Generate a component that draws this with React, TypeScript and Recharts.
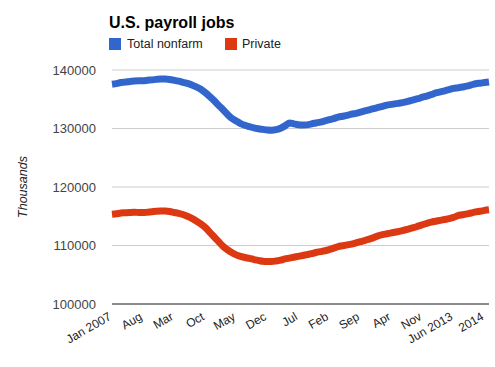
import { LineChart, Line, XAxis, YAxis, CartesianGrid } from 'recharts'

// Monthly, Jan 2007 - Feb 2014, thousands of jobs
const totalNonfarm = [
  137560, 137680, 137850, 137930, 138050, 138120, 138150, 138150, 138240, 138310, 138400, 138460,
  138450, 138380, 138250, 138100, 137900, 137700, 137440, 137100, 136700, 136150, 135500, 134800,
  134000, 133250, 132450, 131750, 131300, 130850, 130550, 130320, 130100, 129950, 129850, 129750,
  129720, 129800, 130050, 130450, 130950, 130800, 130650, 130600, 130620, 130800, 130950, 131100,
  131300, 131500, 131700, 131950, 132100, 132250, 132450, 132600, 132800, 133000, 133200, 133400,
  133600, 133800, 134000, 134120, 134250, 134350, 134500, 134700, 134900, 135100, 135350, 135550,
  135800, 136080, 136250, 136450, 136650, 136850, 136950, 137100, 137250, 137450, 137650, 137750,
  137850, 137950,
]

const privateJobs = [
  115330, 115420, 115550, 115600, 115650, 115680, 115650, 115620, 115700, 115780, 115860, 115900,
  115880, 115800, 115650, 115500, 115300, 115000, 114650, 114200, 113700, 113100, 112300, 111500,
  110700, 109900, 109300, 108800, 108400, 108150, 107950, 107800, 107600, 107450, 107300, 107250,
  107250, 107350, 107500, 107700, 107850, 108000, 108150, 108300, 108450, 108600, 108800, 108950,
  109100, 109300, 109550, 109800, 109950, 110100, 110250, 110450, 110650, 110850, 111100, 111350,
  111650, 111850, 112000, 112150, 112300, 112450, 112650, 112850, 113050, 113300, 113550, 113800,
  114000, 114150, 114300, 114450, 114600, 114800, 115100, 115250, 115400, 115550, 115750, 115850,
  116000, 116100,
]

const tickMonths = [
  '2007-01', '2007-08', '2008-03', '2008-10', '2009-05', '2009-12', '2010-07',
  '2011-02', '2011-09', '2012-04', '2012-11', '2013-06', '2014-01',
]
const tickLabels = ['Jan 2007', 'Aug', 'Mar', 'Oct', 'May', 'Dec', 'Jul', 'Feb', 'Sep', 'Apr', 'Nov', 'Jun 2013', '2014']
const yTicks = [100000, 110000, 120000, 130000, 140000]

const months: string[] = []
for (let i = 0; i < totalNonfarm.length; i++) {
  const y = 2007 + Math.floor(i / 12)
  const m = (i % 12) + 1
  months.push(`${y}-${m < 10 ? '0' + m : m}`)
}

const data = months.map((month, i) => ({
  month,
  total: totalNonfarm[i],
  private: privateJobs[i],
}))

const FONT = '"Liberation Sans", Arial, sans-serif'
const BLUE = '#3366cc'
const RED = '#dc3912'

const XTick = ({ x, y, payload }: any) => {
  const label = tickLabels[tickMonths.indexOf(payload.value)]
  const ty = y + 7
  return (
    <text
      x={x}
      y={ty}
      transform={`rotate(-30 ${x} ${ty})`}
      textAnchor="end"
      fontSize={12}
      fontFamily={FONT}
      fill="#222"
    >
      {label}
    </text>
  )
}

export default function App() {
  return (
    <div style={{ position: 'absolute', left: 0, top: 0, width: 495, height: 367, background: '#fff', fontFamily: FONT }}>
      <div style={{ position: 'absolute', left: 109, top: 13, fontSize: 16, fontWeight: 'bold', color: '#000', lineHeight: '20px' }}>
        U.S. payroll jobs
      </div>
      <div style={{ position: 'absolute', left: 109, top: 38, width: 12, height: 12, background: BLUE }} />
      <div style={{ position: 'absolute', left: 127, top: 36, fontSize: 12.5, color: '#222', lineHeight: '16px' }}>
        Total nonfarm
      </div>
      <div style={{ position: 'absolute', left: 225, top: 38, width: 12, height: 12, background: RED }} />
      <div style={{ position: 'absolute', left: 242, top: 36, fontSize: 12.5, color: '#222', lineHeight: '16px' }}>
        Private
      </div>
      <LineChart width={495} height={367} data={data} margin={{ top: 70, right: 6, bottom: 8, left: 0 }}>
        <CartesianGrid vertical={false} stroke="#cccccc" />
        <XAxis
          dataKey="month"
          ticks={tickMonths}
          interval={0}
          height={55}
          tickLine={false}
          axisLine={{ stroke: '#333' }}
          tick={<XTick />}
        />
        <YAxis
          domain={[100000, 140000]}
          ticks={yTicks}
          width={112}
          axisLine={false}
          tickLine={false}
          tickMargin={10}
          tick={{ fontSize: 13, fill: '#444', fontFamily: FONT }}
          label={{
            value: 'Thousands',
            angle: -90,
            position: 'insideLeft',
            offset: 23,
            style: { fontSize: 12.5, fontStyle: 'italic', fill: '#222', fontFamily: FONT, textAnchor: 'middle' },
          }}
        />
        <Line type="monotone" dataKey="total" stroke={BLUE} strokeWidth={7} dot={false} isAnimationActive={false} />
        <Line type="monotone" dataKey="private" stroke={RED} strokeWidth={7} dot={false} isAnimationActive={false} />
      </LineChart>
    </div>
  )
}
